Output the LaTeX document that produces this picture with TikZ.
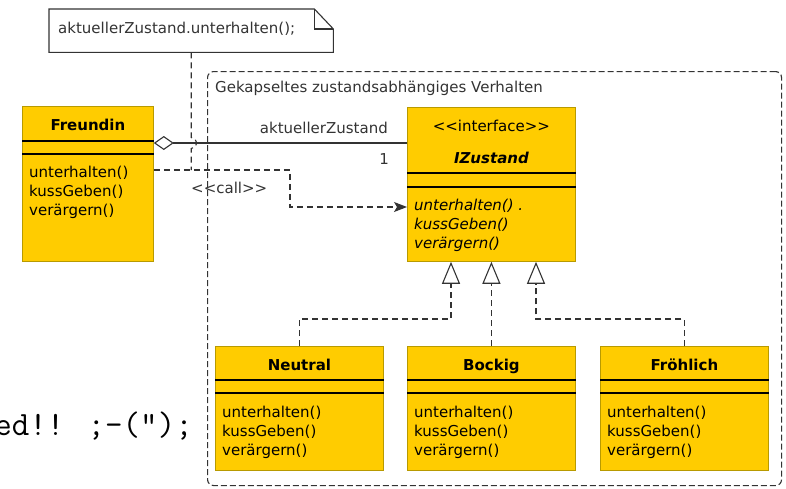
\documentclass[tikz,border=0pt]{standalone}
\usepackage{fontspec}
\setmainfont{DejaVu Sans}
\usetikzlibrary{arrows.meta,calc}

\definecolor{klassengelb}{HTML}{FFCC00}
\definecolor{klassenrand}{HTML}{B89A00}
\definecolor{liniengrau}{HTML}{333333}

% << und >> ohne Guillemet-Ligatur
\newcommand{\stereo}[1]{<\kern0pt<#1>\kern0pt>}

\tikzset{
  klasse/.style={draw=klassenrand, fill=klassengelb, line width=0.8pt, anchor=north west, inner sep=0pt},
  fach/.style={black, line width=1.2pt},
  gestrichelt/.style={liniengrau, line width=1.1pt, dash pattern=on 6pt off 4pt},
  aggregation/.style={liniengrau, line width=1.1pt, {Diamond[open, length=20pt, width=14pt, line width=1.1pt]}-},
  aufruf/.style={gestrichelt, -{Stealth[length=13pt, width=10pt, inset=3pt]}},
  realisierung/.style={gestrichelt, -{Triangle[open, length=22pt, width=18pt, line width=1.1pt]}},
  beschriftung/.style={text=liniengrau, inner sep=0pt}
}

\begin{document}
\begin{tikzpicture}[x=1pt, y=-1pt, font=\fontsize{15}{19}\selectfont]
\useasboundingbox (0,0) rectangle (786,488);

% Paket (gestrichelter Rahmen)
\node [draw=liniengrau, line width=1.1pt, dash pattern=on 6pt off 3pt, rounded corners=6pt,
       anchor=north west, inner sep=0pt, minimum width=574pt, minimum height=414pt] (paket) at (207,71) {};
\node [beschriftung, anchor=base west] (paketname) at (215,92) {Gekapseltes zustandsabhängiges Verhalten};

% Notiz mit Eselsohr
\node [anchor=north west, inner sep=0pt, minimum width=284pt, minimum height=43pt] (notiz) at (49,9) {};
\draw [liniengrau, line width=1.1pt, fill=white]
  (notiz.north west) -- ($(notiz.north east)+(-19,0)$) -- ($(notiz.north east)+(0,20)$)
  -- (notiz.south east) -- (notiz.south west) -- cycle;
\draw [liniengrau, line width=1.1pt] ($(notiz.north east)+(-19,0)$) |- ($(notiz.north east)+(0,20)$);
\node [beschriftung, anchor=base west] (notiztext) at (58,33) {aktuellerZustand.unterhalten();};

% Abgeschnittener Code links
\node [anchor=base east, inner sep=0pt, font=\ttfamily\fontsize{34}{34}\selectfont] (codezeile) at (193,435) {ed!! ;-(");};

% Klasse Freundin
\node [klasse, minimum width=131pt, minimum height=155pt] (freundin) at (22,106) {};
\draw [fach] ($(freundin.north west)+(0,35)$) -- ($(freundin.north east)+(0,35)$);
\draw [fach] ($(freundin.north west)+(0,48)$) -- ($(freundin.north east)+(0,48)$);
\node [anchor=base, inner sep=0pt] (freundin-name) at ($(freundin.north)+(0,24)$) {\bfseries Freundin};
\foreach \m [count=\i from 0] in {unterhalten(),kussGeben(),verärgern()}
  \node [anchor=base west, inner sep=0pt] (freundin-m\i) at ($(freundin.north west)+(7,71+19*\i)$) {\m};

% Interface IZustand
\node [klasse, minimum width=168pt, minimum height=154pt] (izustand) at (407,107) {};
\draw [fach] ($(izustand.north west)+(0,66)$) -- ($(izustand.north east)+(0,66)$);
\draw [fach] ($(izustand.north west)+(0,80)$) -- ($(izustand.north east)+(0,80)$);
\node [anchor=base, inner sep=0pt] (izustand-stereo) at ($(izustand.north)+(0,24)$) {\stereo{interface}};
\node [anchor=base, inner sep=0pt] (izustand-name) at ($(izustand.north)+(0,56)$) {\bfseries\itshape IZustand};
\foreach \m [count=\i from 0] in {unterhalten() .,kussGeben(),verärgern()}
  \node [anchor=base west, inner sep=0pt] (izustand-m\i) at ($(izustand.north west)+(7,103+19*\i)$) {\itshape\m};

% Konkrete Zustaende
\foreach \name/\titel/\x in {neutral/Neutral/215, bockig/Bockig/407, froehlich/Fröhlich/600} {
  \node [klasse, minimum width=168pt, minimum height=124pt] (\name) at (\x,346) {};
  \draw [fach] ($(\name.north west)+(0,34)$) -- ($(\name.north east)+(0,34)$);
  \draw [fach] ($(\name.north west)+(0,47)$) -- ($(\name.north east)+(0,47)$);
  \node [anchor=base, inner sep=0pt] (\name-name) at ($(\name.north)+(0,24)$) {\bfseries\titel};
  \foreach \m [count=\i from 0] in {unterhalten(),kussGeben(),verärgern()}
    \node [anchor=base west, inner sep=0pt] (\name-m\i) at ($(\name.north west)+(7,71+19*\i)$) {\m};
}

% Hilfspunkte
\coordinate (agg) at (0,143);
\coordinate (knick) at (290,170);
\coordinate (ziel) at (0,207);
\coordinate (r1) at (451,319);
\coordinate (r3) at (536,319);

% Aggregation
\draw [aggregation] (freundin.east |- agg) -- (izustand.west |- agg);
\node [beschriftung, anchor=base east] (rolle) at (388,133) {aktuellerZustand};
\node [beschriftung, anchor=base east] (mult) at (389,164) {1};

% Aufruf
\draw [aufruf] (freundin.east |- knick) -- (knick) |- (izustand.west |- ziel);
\node [beschriftung, anchor=base west] (aufruf-text) at (191,193) {\stereo{call}};

% Notizanker mit Sprung
\coordinate (notiz-ende) at (notiz.south |- knick);
\draw [gestrichelt] (notiz.south) -- ($(notiz.south |- agg)+(0,-5.5)$)
  arc [start angle=-90, end angle=90, radius=5.5] -- (notiz-ende);

% Realisierungen
\draw [realisierung] (neutral.north) |- (r1) -- (r1 |- izustand.south);
\draw [realisierung] (bockig.north) -- (bockig.north |- izustand.south);
\draw [realisierung] (froehlich.north) |- (r3) -- (r3 |- izustand.south);
\end{tikzpicture}
\end{document}
